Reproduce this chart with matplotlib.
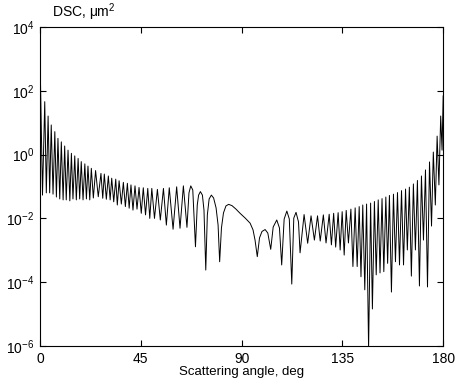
import matplotlib
matplotlib.use("Agg")
import matplotlib.pyplot as plt
import numpy as np

plt.rcParams['font.family'] = ['Liberation Sans', 'DejaVu Sans']
plt.rcParams['mathtext.fontset'] = 'custom'
plt.rcParams['mathtext.rm'] = 'Liberation Sans'

# scattering angle (deg) and log10 of DSC (um^2)
angle = [0.0, 1.1, 2.1, 2.8, 3.6, 4.3, 5.0, 5.8, 6.6, 7.3,
         8.0, 8.8, 9.5, 10.3, 11.0, 11.7, 12.5, 13.3, 14.0, 14.7,
         15.5, 16.2, 17.0, 17.7, 18.4, 19.2, 20.0, 20.7, 21.4, 22.2,
         22.9, 23.8, 24.8, 26.0, 27.2, 28.0, 28.7, 29.6, 30.5, 31.3,
         32.0, 32.9, 33.8, 34.5, 35.3, 36.3, 37.2, 38.1, 39.0, 39.8,
         40.6, 41.5, 42.4, 43.3, 44.2, 45.2, 46.1, 47.1, 48.1, 49.0,
         49.9, 51.1, 52.4, 53.7, 55.1, 56.4, 57.7, 59.4, 61.0, 62.5,
         64.0, 65.6, 66.5, 67.3, 68.2, 69.4, 70.2, 70.8, 71.6, 72.5,
         73.2, 74.0, 74.7, 75.5, 76.5, 77.5, 78.6, 79.5, 80.2, 81.0,
         81.9, 83.0, 84.2, 85.7, 87.5, 89.3, 91.6, 93.8, 95.1, 96.0,
         97.0, 98.0, 99.1, 100.5, 101.7, 103.0, 104.1, 105.7, 106.9, 107.9,
         109.0, 110.2, 111.3, 112.4, 113.3, 114.3, 115.4, 116.1, 117.9, 119.5,
         121.0, 122.5, 123.9, 125.1, 126.5, 127.7, 129.1, 130.1, 131.1, 132.0,
         133.1, 134.0, 134.9, 135.8, 136.7, 137.7, 138.8, 139.7, 140.7, 141.6,
         142.5, 143.3, 144.1, 145.0, 145.8, 146.7, 147.6, 148.4, 149.3, 150.1,
         151.0, 151.8, 152.7, 153.5, 154.4, 155.2, 156.0, 156.9, 157.8, 158.7,
         159.6, 160.5, 161.4, 162.3, 163.2, 164.0, 164.9, 165.8, 166.7, 167.6,
         168.5, 169.4, 170.3, 171.2, 172.1, 173.0, 173.9, 174.8, 175.6, 176.5,
         177.3, 178.1, 178.9, 179.5, 180.0]

dsc_log = [3.04, -1.27, 1.66, -1.20, 1.21, -1.20, 0.93, -1.24, 0.72, -1.33,
           0.51, -1.39, 0.40, -1.42, 0.27, -1.42, 0.14, -1.45, 0.04, -1.39,
           -0.04, -1.42, -0.12, -1.39, -0.22, -1.42, -0.29, -1.39, -0.36, -1.42,
           -0.43, -1.36, -0.50, -1.32, -0.59, -1.37, -0.61, -1.40, -0.67, -1.42,
           -0.74, -1.48, -0.77, -1.58, -0.82, -1.55, -0.87, -1.63, -0.90, -1.68,
           -0.95, -1.74, -0.98, -1.71, -1.03, -1.84, -1.04, -1.89, -1.06, -2.00,
           -1.06, -2.00, -1.09, -2.05, -1.06, -2.21, -1.04, -2.34, -1.01, -2.31,
           -0.98, -2.28, -1.20, -0.98, -1.11, -2.89, -1.58, -1.27, -1.16, -1.27,
           -1.74, -3.62, -1.89, -1.39, -1.27, -1.36, -1.67, -2.21, -3.36, -2.30,
           -1.83, -1.61, -1.56, -1.60, -1.71, -1.84, -1.99, -2.15, -2.36, -2.68,
           -3.20, -2.61, -2.41, -2.35, -2.46, -2.97, -2.27, -2.05, -2.30, -3.46,
           -2.02, -1.77, -2.02, -4.06, -1.99, -1.81, -2.11, -3.08, -1.88, -2.78,
           -1.92, -2.68, -1.92, -2.71, -1.89, -2.77, -1.87, -2.83, -1.84, -2.90,
           -1.82, -2.99, -1.79, -3.15, -1.75, -2.77, -1.71, -3.51, -1.67, -3.51,
           -1.63, -3.83, -1.58, -4.24, -1.55, -6.10, -1.52, -4.84, -1.47, -3.77,
           -1.42, -3.71, -1.38, -3.67, -1.33, -3.41, -1.28, -4.31, -1.24, -3.36,
           -1.19, -3.46, -1.13, -3.46, -1.08, -2.99, -1.02, -3.81, -0.92, -2.99,
           -0.81, -4.12, -0.67, -2.68, -0.48, -4.15, -0.23, -2.24, 0.08, -1.58,
           0.58, -0.95, 1.21, 0.14, 1.84]

xticks = [0, 45, 90, 135, 180]
yticks = [1e-6, 1e-4, 1e-2, 1e0, 1e2, 1e4]

dsc = 10.0 ** np.array(dsc_log)

fig = plt.figure(figsize=(4.55, 3.81), dpi=100)
ax = fig.add_axes([0.088, 0.092, 0.886, 0.837])
ax.semilogy(angle, dsc, color='black', linewidth=0.7)

ax.set_xlim(0, 180)
ax.set_ylim(1e-6, 1e4)
ax.set_xticks(xticks)
ax.set_xticklabels([str(t) for t in xticks])
ax.set_yticks(yticks)
ax.minorticks_off()
ax.tick_params(direction='in', top=True, right=True, length=4, labelsize=10, pad=4)
for s in ax.spines.values():
    s.set_linewidth(0.8)

ax.set_xlabel("Scattering angle, deg", fontsize=9.5, labelpad=0)
ax.text(0.03, 1.012, "DSC, μm$^2$", transform=ax.transAxes, fontsize=10,
        ha='left', va='bottom')

fig.savefig("out.png", dpi=100)
